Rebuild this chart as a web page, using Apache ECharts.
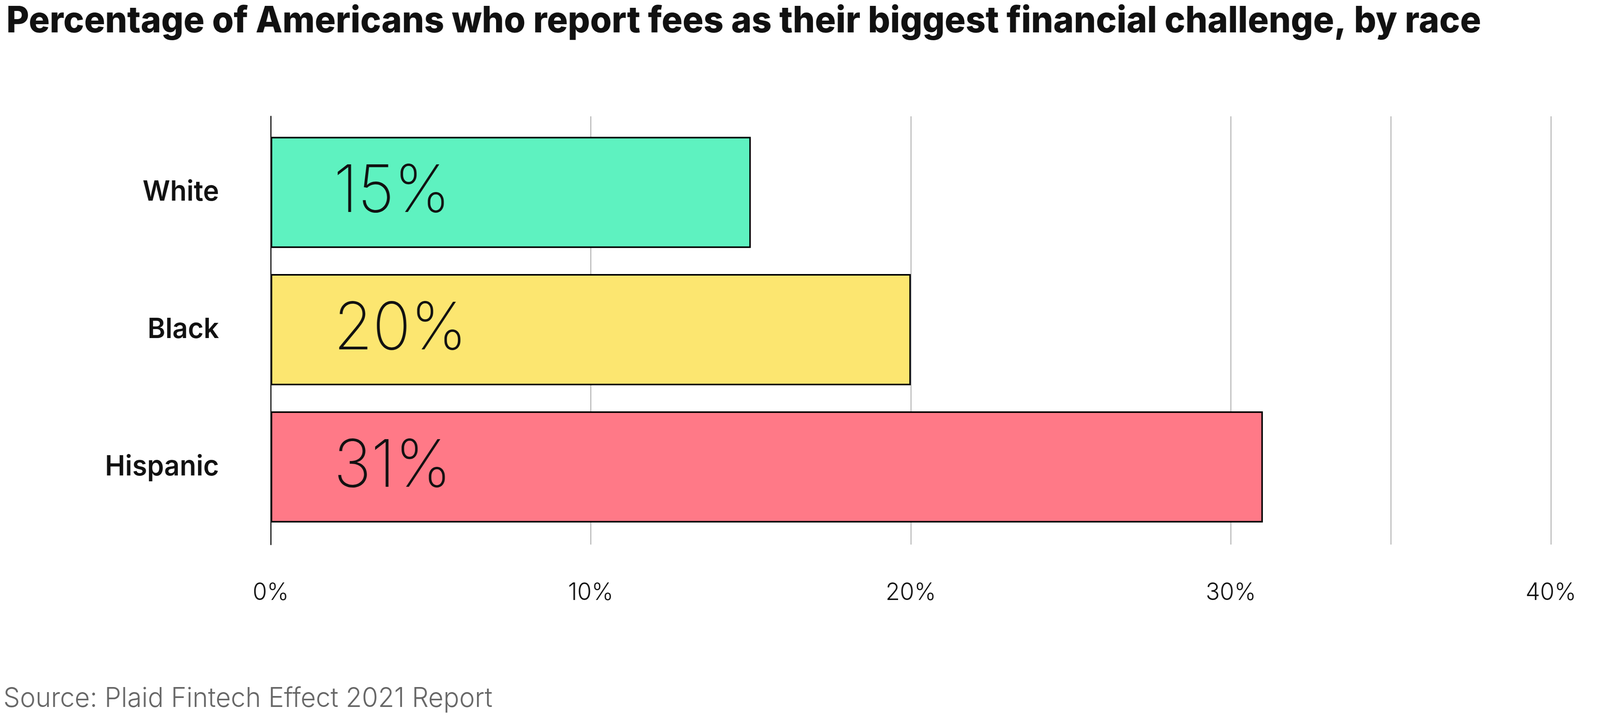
<!DOCTYPE html>
<html>
<head>
<meta charset="utf-8">
<script src="https://cdn.jsdelivr.net/npm/echarts@6/dist/echarts.min.js"></script>
<style>
html, body { margin: 0; padding: 0; background: #fff; overflow: hidden; }
#chart { width: 4267px; height: 1847px; transform-origin: 0 0; }
</style>
</head>
<body>
<div id="chart"></div>
<script>
var categories = ['White', 'Black', 'Hispanic'];
var values = [15, 20, 31];
var barColors = ['#5EF2C0', '#FCE670', '#FF7987'];
var extraGridLines = [35];

var titleText = 'Percentage of Americans who report fees as their biggest financial challenge, by race';
var sourceText = 'Source: Plaid Fintech Effect 2021 Report';

// the chart is laid out at 4267 wide; squeeze it into the real viewport if narrower
var el = document.getElementById('chart');
function fitChart() {
    var sx = Math.min(1, window.innerWidth / 4267);
    el.style.transform = 'scale(' + sx + ', 1)';
}
fitChart();

var chart = echarts.init(el);

var option = {
    backgroundColor: '#fff',
    animation: false,
    title: [
        {
            text: titleText,
            left: 12,
            top: 4,
            textStyle: { fontFamily: 'Inter', fontSize: 93, fontWeight: 800, color: '#111' }
        },
        {
            text: sourceText,
            left: 4,
            top: 1750,
            textStyle: { fontFamily: 'Inter', fontSize: 70, fontWeight: 300, color: '#666' }
        }
    ],
    grid: [
        // axis line + gridlines
        { left: 722, right: 131, top: 298, bottom: 452 },
        // bars
        { left: 722, right: 131, top: 317, bottom: 475 }
    ],
    xAxis: [
        {
            gridIndex: 0,
            type: 'value',
            min: 0,
            max: 40,
            interval: 10,
            axisLine: { show: false },
            axisTick: { show: false },
            splitLine: { show: true, lineStyle: { color: '#BBBBBB', width: 3 } },
            axisLabel: {
                formatter: '{value}%',
                fontFamily: 'Inter',
                fontSize: 62,
                fontWeight: 300,
                color: '#111',
                margin: 92
            }
        },
        {
            gridIndex: 1,
            type: 'value',
            min: 0,
            max: 40,
            show: false
        }
    ],
    yAxis: [
        {
            gridIndex: 0,
            type: 'category',
            inverse: true,
            data: categories,
            axisLine: { show: true, lineStyle: { color: '#111', width: 3 } },
            axisTick: { show: false },
            axisLabel: { show: false },
            z: 5
        },
        {
            gridIndex: 1,
            type: 'category',
            inverse: true,
            data: categories,
            axisLine: { show: false },
            axisTick: { show: false },
            axisLabel: {
                fontFamily: 'Inter',
                fontSize: 72,
                fontWeight: 600,
                color: '#111',
                margin: 138
            }
        }
    ],
    series: [
        {
            type: 'line',
            xAxisIndex: 0,
            yAxisIndex: 0,
            data: [],
            silent: true,
            markLine: {
                symbol: 'none',
                silent: true,
                label: { show: false },
                lineStyle: { color: '#BBBBBB', width: 3, type: 'solid' },
                data: extraGridLines.map(function (v) { return { xAxis: v }; })
            }
        },
        {
            type: 'bar',
            xAxisIndex: 1,
            yAxisIndex: 1,
            barCategoryGap: '19%',
            z: 3,
            itemStyle: { borderColor: '#000', borderWidth: 4 },
            label: {
                show: true,
                position: [168, '50%'],
                align: 'left',
                verticalAlign: 'middle',
                formatter: '{c}%',
                fontFamily: 'Inter',
                fontSize: 168,
                fontWeight: 200,
                color: '#111'
            },
            data: values.map(function (v, i) {
                return { value: v, itemStyle: { color: barColors[i] } };
            })
        }
    ]
};

chart.setOption(option);

window.onresize = function () {
    fitChart();
};
</script>
</body>
</html>
